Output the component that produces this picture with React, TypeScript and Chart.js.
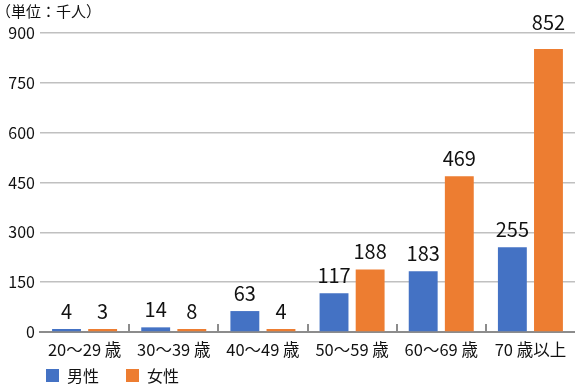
import React, { useEffect, useRef } from "react";
import { Chart, registerables } from "chart.js";

Chart.register(...registerables);

const categories = ["20〜29 歳", "30〜39 歳", "40〜49 歳", "50〜59 歳", "60〜69 歳", "70 歳以上"];
const seriesNames = ["男性", "女性"];
const maleValues = [4, 14, 63, 117, 183, 255];
const femaleValues = [3, 8, 4, 188, 469, 852];
const yTicks = [0, 150, 300, 450, 600, 750, 900];
const unitLabel = "（単位：千人）";

const FONT = "'Noto Sans CJK JP', 'Noto Sans', sans-serif";
const BLUE = "#4472C4";
const ORANGE = "#ED7D31";

const extrasPlugin = {
  id: "extras",
  afterDraw(chart: any) {
    const ctx = chart.ctx;
    const xs = chart.scales.x;
    const area = chart.chartArea;
    ctx.save();
    // separator ticks between categories
    ctx.strokeStyle = "#8c8c8c";
    ctx.lineWidth = 2;
    for (let i = 0; i < categories.length - 1; i++) {
      const x = Math.round((xs.getPixelForValue(i) + xs.getPixelForValue(i + 1)) / 2);
      ctx.beginPath();
      ctx.moveTo(x, area.bottom - 8);
      ctx.lineTo(x, area.bottom);
      ctx.stroke();
    }
    // data labels
    ctx.fillStyle = "#111";
    ctx.font = `20px ${FONT}`;
    ctx.textAlign = "center";
    ctx.textBaseline = "bottom";
    chart.data.datasets.forEach((ds: any, di: number) => {
      const meta = chart.getDatasetMeta(di);
      meta.data.forEach((bar: any, i: number) => {
        let y = bar.y - 8;
        // keep labels clear of the top grid line
        if (y > area.top - 1 && y - 18 < area.top + 2) y = area.top - 1;
        ctx.fillText(String(ds.data[i]), bar.x, y);
      });
    });
    // unit label
    ctx.font = `15px ${FONT}`;
    ctx.textAlign = "left";
    ctx.textBaseline = "middle";
    ctx.fillText(unitLabel, -4, 11);
    // legend
    const legendY = 376;
    let lx = 46;
    chart.data.datasets.forEach((ds: any) => {
      ctx.fillStyle = ds.backgroundColor;
      ctx.fillRect(lx, legendY - 7, 13, 13);
      ctx.fillStyle = "#111";
      ctx.font = `16px ${FONT}`;
      ctx.textAlign = "left";
      ctx.textBaseline = "middle";
      ctx.fillText(ds.label, lx + 21, legendY);
      lx += 80;
    });
    ctx.restore();
  },
};

export default function App() {
  const ref = useRef<HTMLCanvasElement>(null);
  useEffect(() => {
    if (!ref.current) return;
    const chart = new Chart(ref.current, {
      type: "bar",
      data: {
        labels: categories,
        datasets: [
          { label: seriesNames[0], data: maleValues, backgroundColor: BLUE, minBarLength: 3 },
          { label: seriesNames[1], data: femaleValues, backgroundColor: ORANGE, minBarLength: 3 },
        ],
      },
      options: {
        responsive: false,
        animation: false,
        layout: { padding: { top: 33, left: 0, right: 0, bottom: 0 } },
        plugins: {
          legend: { display: false },
          tooltip: { enabled: false },
          title: { display: false },
        },
        datasets: {
          bar: { categoryPercentage: 0.81, barPercentage: 0.8 },
        },
        scales: {
          x: {
            z: -1,
            grid: { display: false },
            border: { display: true, color: "#8c8c8c", width: 2 },
            ticks: {
              color: "#111",
              font: { family: FONT, size: 16.5 },
              padding: 0,
              maxRotation: 0,
              autoSkip: false,
            },
            afterFit(scale: any) {
              scale.height = 58;
            },
          },
          y: {
            min: 0,
            max: 900,
            afterBuildTicks(scale: any) {
              scale.ticks = yTicks.map((v) => ({ value: v }));
            },
            grid: { color: "#c0c0c0", lineWidth: 1.5, drawTicks: false },
            border: { display: false },
            ticks: {
              color: "#111",
              font: { family: FONT, size: 16 },
              padding: 5,
            },
            afterFit(scale: any) {
              scale.width = 40;
            },
          },
        },
      },
      plugins: [extrasPlugin],
    });
    return () => chart.destroy();
  }, []);
  return (
    <div style={{ position: "fixed", left: 0, top: 0, width: 575, height: 390, background: "#fff" }}>
      <canvas ref={ref} width={575} height={390} />
    </div>
  );
}
